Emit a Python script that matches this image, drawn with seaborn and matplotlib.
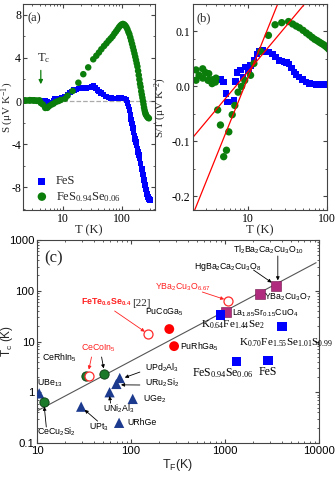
import numpy as np
import pandas as pd
import matplotlib
matplotlib.use('Agg')
import matplotlib.pyplot as plt
import seaborn as sns
from matplotlib.ticker import MultipleLocator, NullFormatter

# ---- panel (a)/(b) data: thermopower S (uV/K) vs T (K) ----
T_fes = [4.3, 4.6, 5.0, 5.37, 5.6, 6.7, 7.05, 7.4, 8.15, 8.7, 9.4, 10.2, 10.9, 12.0,
         13.2, 13.9, 15.3, 16.9, 18.5, 20.5, 22.6, 24.9, 27, 28.8, 31, 33.3, 36, 38.5,
         41, 44.5, 49, 54.3, 60, 66, 73, 80, 90, 100, 110, 120, 125, 130, 135, 140,
         145, 150, 155, 160, 165, 170, 175, 180, 185, 190, 195, 200, 210, 220, 230,
         240, 250, 260, 270, 280, 290, 300]
S_fes = [0.05, 0.06, 0.04, -0.07, -0.16, -0.17, 0.06, 0.19, 0.24, 0.15, 0.33, 0.29, 0.41, 0.58,
         0.78, 0.90, 1.0, 1.05, 1.15, 1.2, 1.2, 1.17, 1.25, 1.27, 1.35, 1.37, 1.2, 1.0,
         0.88, 0.76, 0.6, 0.43, 0.33, 0.26, 0.24, 0.24, 0.27, 0.3, 0.25, 0.1, -0.2, -0.5, -0.85, -1.3,
         -1.7, -2.1, -2.5, -2.9, -3.2, -3.5, -3.8, -4.1, -4.4, -4.7, -5.0, -5.3, -5.8, -6.3, -6.8,
         -7.3, -7.8, -8.2, -8.6, -8.9, -9.1, -9.2]

T_fesse = [2.24, 2.24, 2.45, 2.72, 2.72, 2.95, 3.24, 3.18, 3.57, 3.93, 3.57, 4.0,
           4.2, 4.55, 5.0, 5.42, 5.8, 6.4, 6.9, 7.6, 8.4, 9.2, 10.9, 12.0, 14.6, 18.3,
           22.2, 26.9, 32.8, 37, 41, 45, 50, 55, 60, 65, 70, 75, 80, 85, 90, 95, 100,
           105, 110, 115, 120, 125, 130, 135, 140, 145, 150, 155, 160, 165, 170, 175,
           180, 185, 190, 195, 200, 205, 210, 215, 220, 225, 230, 235, 240, 245, 250,
           255, 260, 270, 280, 290]
S_fesse = [0.067, 0.025, 0.049, 0.087, 0.041, 0.074, 0.075, 0.035, 0.043, 0.031, 0.018, 0.06,
           -0.18, -0.32, -0.64, -0.63, -0.48, -0.33, -0.24, -0.08, 0.0, 0.10, 0.22, 0.50, 0.93, 1.70,
           2.49, 3.12, 3.87, 4.2, 4.5, 4.8, 5.1, 5.35, 5.6, 5.8, 6.0, 6.25, 6.45, 6.65, 6.85, 7.0, 7.1,
           7.15, 7.1, 7.0, 6.85, 6.65, 6.4, 6.2, 5.9, 5.6, 5.3, 5.0, 4.7, 4.4, 4.1, 3.8,
           3.5, 3.2, 2.8, 2.4, 2.0, 1.6, 1.3, 0.9, 0.6, 0.3, 0.0, -0.3, -0.6, -0.85, -1.05,
           -1.2, -1.3, -1.45, -1.55, -1.6]

# red guide lines in (b): (T, S/T) end points
fit1_T = [2.15, 23.8]
fit1_y = [-0.2255, 0.149]
fit2_T = [2.07, 51.6]
fit2_y = [-0.092, 0.149]

# ---- panel (c) data: Tc vs TF ----
tri_names = ['UBe13', 'UPt3', 'UNi2Al3', 'URu2Si2', 'UPd2Al3', 'UGe2', 'URhGe']
tri_TF = [10.5, 29.4, 59, 69.7, 75.7, 104, 74.5]
tri_Tc = [0.95, 0.52, 1.0, 1.46, 1.91, 0.74, 0.25]

ce_names = ['CeCu2Si2', 'CeRhIn5', 'CeCoIn5']
ce_TF = [11.9, 33.5, 51]
ce_Tc = [0.64, 2.1, 2.3]

open_names = ['CeCoIn5', 'FeTe0.6Se0.4', 'YBa2Cu3O6.67']
open_TF = [35.5, 152, 1070]
open_Tc = [2.1, 13.9, 63.7]

pu_names = ['PuCoGa5', 'PuRhGa5']
pu_TF = [255, 287]
pu_Tc = [17.6, 8.1]

cup_names = ['La1.85Sr0.15CuO4', 'YBa2Cu3O7', 'Tl2Ba2Ca2Cu3O10']
cup_TF = [1035, 2355, 3470]
cup_Tc = [38.6, 85, 124]

fe_names = ['K0.64Fe1.44Se2', 'K0.70Fe1.55Se1.01S0.99', 'FeS0.94Se0.06', 'FeS']
fe_TF = [892, 4030, 1316, 2870]
fe_Tc = [33.3, 19.6, 4.0, 4.2]

line_TF = [10, 9330]
line_Tc = [0.43, 357]

# ---- style ----
sns.set_style('ticks')
plt.rcParams['font.family'] = ['Liberation Serif', 'DejaVu Serif']
plt.rcParams['mathtext.default'] = 'regular'
plt.rcParams['axes.unicode_minus'] = False
plt.rcParams['xtick.direction'] = 'in'
plt.rcParams['ytick.direction'] = 'in'
plt.rcParams['xtick.top'] = True
plt.rcParams['ytick.right'] = True
plt.rcParams['axes.edgecolor'] = '#444444'
plt.rcParams['axes.linewidth'] = 0.8
plt.rcParams['xtick.major.size'] = 3
plt.rcParams['ytick.major.size'] = 3
plt.rcParams['xtick.minor.size'] = 1.6
plt.rcParams['ytick.minor.size'] = 1.6
plt.rcParams['xtick.color'] = '#444444'
plt.rcParams['ytick.color'] = '#444444'
plt.rcParams['xtick.labelcolor'] = 'black'
plt.rcParams['ytick.labelcolor'] = 'black'

BLUE = '#0000ff'
GREEN = '#0b7d0b'

fig = plt.figure(figsize=(3.35, 4.78), dpi=100)

df_fes = pd.DataFrame({'T': T_fes, 'S': S_fes})
df_fes['ST'] = df_fes['S'] / df_fes['T']
df_fesse = pd.DataFrame({'T': T_fesse, 'S': S_fesse})
df_fesse['ST'] = df_fesse['S'] / df_fesse['T']

# ---- (a) ----
ax_a = fig.add_axes([0.069, 0.5607, 0.394, 0.431])
ax_a.axhline(0, color='#aaaaaa', ls='--', lw=0.9, zorder=0)
sns.scatterplot(data=df_fes, x='T', y='S', marker='s', color=BLUE, s=16,
                edgecolor='none', ax=ax_a, label='FeS')
sns.scatterplot(data=df_fesse, x='T', y='S', marker='o', color=GREEN, s=22,
                edgecolor='none', ax=ax_a, label='FeS$_{0.94}$Se$_{0.06}$')
ax_a.set_xscale('log')
ax_a.set_xlim(2.1, 370)
ax_a.set_ylim(-10.1, 9)
ax_a.set_yticks([-8, -4, 0, 4, 8])
ax_a.yaxis.set_minor_locator(MultipleLocator(2))
ax_a.set_xticks([10, 100])
ax_a.set_xticklabels(['10', '100'])
ax_a.xaxis.set_minor_formatter(NullFormatter())
ax_a.tick_params(labelsize=8.5, pad=2)
ax_a.tick_params(axis='y', pad=1.5)
ax_a.set_xlabel('T (K)', fontsize=9, labelpad=0)
ax_a.set_ylabel('S ($\\mu$V K$^{-1}$)', fontsize=8)
ax_a.yaxis.set_label_coords(-0.056, 0.5)
ax_a.text(0.03, 0.96, '(a)', transform=ax_a.transAxes, fontsize=9, va='top')
ax_a.annotate('', xy=(4.2, 1.3), xytext=(4.2, 3.1),
              arrowprops=dict(arrowstyle='-|>', color=GREEN, lw=0.9, mutation_scale=6))
ax_a.text(3.6, 4.0, 'T$_c$', fontsize=9, ha='left', va='center')
leg = ax_a.legend(loc='lower left', frameon=False, fontsize=9, handletextpad=0.1,
                  borderaxespad=0.1, labelspacing=0.2, markerscale=1.3)

# ---- (b) ----
ax_b = fig.add_axes([0.576, 0.5607, 0.4, 0.431])
sns.scatterplot(data=df_fes, x='T', y='ST', marker='s', color=BLUE, s=22,
                edgecolor='none', ax=ax_b, legend=False)
sns.scatterplot(data=df_fesse, x='T', y='ST', marker='o', color=GREEN, s=28,
                edgecolor='none', ax=ax_b, legend=False)
ax_b.plot(fit1_T, fit1_y, color='red', lw=0.9)
ax_b.plot(fit2_T, fit2_y, color='red', lw=0.9)
ax_b.set_xscale('log')
ax_b.set_xlim(2.05, 100)
ax_b.set_ylim(-0.225, 0.15)
ax_b.set_yticks([-0.2, -0.1, 0.0, 0.1])
ax_b.set_yticklabels(['-0.2', '-0.1', '0.0', '0.1'])
ax_b.yaxis.set_minor_locator(MultipleLocator(0.05))
ax_b.set_xticks([10, 100])
ax_b.set_xticklabels(['10', '100'])
ax_b.xaxis.set_minor_formatter(NullFormatter())
ax_b.tick_params(labelsize=8.5, pad=2)
ax_b.set_xlabel('T (K)', fontsize=9, labelpad=0)
ax_b.set_ylabel('S/T ($\\mu$V K$^{-2}$)', fontsize=8)
ax_b.yaxis.set_label_coords(-0.18, 0.5)
ax_b.text(0.03, 0.96, '(b)', transform=ax_b.transAxes, fontsize=9, va='top')

# ---- (c) ----
SANS = ['Liberation Sans', 'DejaVu Sans']
SERIF = ['Liberation Serif', 'DejaVu Serif']
ax_c = fig.add_axes([0.111, 0.0732, 0.841, 0.4247])
ax_c.plot(line_TF, line_Tc, color='#555555', lw=0.8, zorder=1)
sns.scatterplot(x=tri_TF, y=tri_Tc, marker='^', color='#1c3a8e', s=55, edgecolor='none', ax=ax_c, zorder=3)
sns.scatterplot(x=ce_TF, y=ce_Tc, marker='o', color='#1a7a2a', s=45, edgecolor='#0a3a10', linewidth=0.6, ax=ax_c, zorder=3)
sns.scatterplot(x=open_TF, y=open_Tc, marker='o', facecolor='white', edgecolor='#ff2a2a', linewidth=0.9, s=42, ax=ax_c, zorder=4)
sns.scatterplot(x=pu_TF, y=pu_Tc, marker='o', color='#ff0000', s=50, edgecolor='none', ax=ax_c, zorder=3)
sns.scatterplot(x=cup_TF, y=cup_Tc, marker='s', color='#b02a7e', s=45, edgecolor='#70104a', linewidth=0.4, ax=ax_c, zorder=3)
sns.scatterplot(x=fe_TF, y=fe_Tc, marker='s', color=BLUE, s=45, edgecolor='none', ax=ax_c, zorder=4)
ax_c.set_xscale('log')
ax_c.set_yscale('log')
ax_c.set_xlim(10, 10000)
ax_c.set_ylim(0.1, 1000)
ax_c.set_xticks([10, 100, 1000, 10000])
ax_c.set_xticklabels(['10', '100', '1000', '10000'], family=SANS)
ax_c.set_yticks([0.1, 1, 10, 100, 1000])
ax_c.set_yticklabels(['0.1', '1', '10', '100', '1000'], family=SANS)
ax_c.xaxis.set_minor_formatter(NullFormatter())
ax_c.yaxis.set_minor_formatter(NullFormatter())
ax_c.tick_params(labelsize=8.2, pad=2)
ax_c.set_xlabel('T$_F$(K)', fontsize=9, family=SANS, labelpad=1)
ax_c.set_ylabel('T$_c$ (K)', fontsize=8.5, family=SANS)
ax_c.yaxis.set_label_coords(-0.078, 0.5)
ax_c.text(11.9, 440, '(c)', fontsize=12, va='center')


def lab(x, y, s, color='black', fam=SANS, fs=6.3, **kw):
    return ax_c.text(x, y, s, color=color, family=fam, fontsize=fs, va='center', ha='left', **kw)


def arr(x0, y0, x1, y1, color='black'):
    ax_c.annotate('', xy=(x1, y1), xytext=(x0, y0),
                  arrowprops=dict(arrowstyle='-|>', color=color, lw=0.6, mutation_scale=5,
                                  shrinkA=0, shrinkB=0))


lab(1230, 635, 'Tl$_2$Ba$_2$Ca$_2$Cu$_3$O$_{10}$')
arr(3650, 484, 3650, 160)
lab(470, 294, 'HgBa$_2$Ca$_2$Cu$_3$O$_8$')
arr(2013, 256, 3140, 145)
lab(2580, 73, 'YBa$_2$Cu$_3$O$_7$')
lab(1200, 36.5, 'La$_{1.85}$Sr$_{0.15}$CuO$_4$')
lab(558, 21.1, 'K$_{0.64}$Fe$_{1.44}$Se$_2$', fam=SERIF, fs=8)
lab(1393, 9.3, 'K$_{0.70}$Fe$_{1.55}$Se$_{1.01}$S$_{0.99}$', fam=SERIF, fs=8)
lab(447, 2.39, 'FeS$_{0.94}$Se$_{0.06}$', fam=SERIF, fs=8.5)
lab(2280, 2.5, 'FeS', fam=SERIF, fs=8.5)
lab(333, 7.8, 'PuRhGa$_5$')
lab(140, 38.1, 'PuCoGa$_5$')
t_fete = lab(29.6, 60, 'FeTe$_{0.6}$Se$_{0.4}$', color='#ff2020', fontweight='bold')
ax_c.annotate('[22]', xy=(1, 0), xycoords=t_fete, va='bottom', ha='left',
              family=SERIF, fontsize=8)
arr(66.8, 39.9, 140, 15.6, color='#ff2020')
lab(179.6, 118.6, 'YBa$_2$Cu$_3$O$_{6.67}$', color='#ff2020')
arr(573, 94.4, 980, 68, color='#ff2020')
lab(11.3, 4.73, 'CeRhIn$_5$')
lab(29.6, 7.45, 'CeCoIn$_5$', color='#ff2020')
arr(37.9, 4.95, 35.5, 2.8, color='#ff2020')
arr(48.5, 4.95, 51, 2.95)
lab(10.0, 1.52, 'UBe$_{13}$')
lab(10.0, 0.165, 'CeCu$_2$Si$_2$')
arr(12.5, 0.207, 11.9, 0.52)
lab(140, 3.0, 'UPd$_2$Al$_3$')
arr(124, 2.5, 85.6, 1.95)
lab(140, 1.52, 'URu$_2$Si$_2$')
arr(124, 1.39, 78, 1.4)
lab(133, 0.74, 'UGe$_2$')
lab(49.8, 0.47, 'UNi$_2$Al$_3$')
arr(60.5, 0.61, 59, 0.84)
lab(36, 0.207, 'UPt$_3$')
arr(44, 0.27, 32, 0.45)
lab(92.3, 0.248, 'URhGe')

fig.savefig('out.png', dpi=100)
